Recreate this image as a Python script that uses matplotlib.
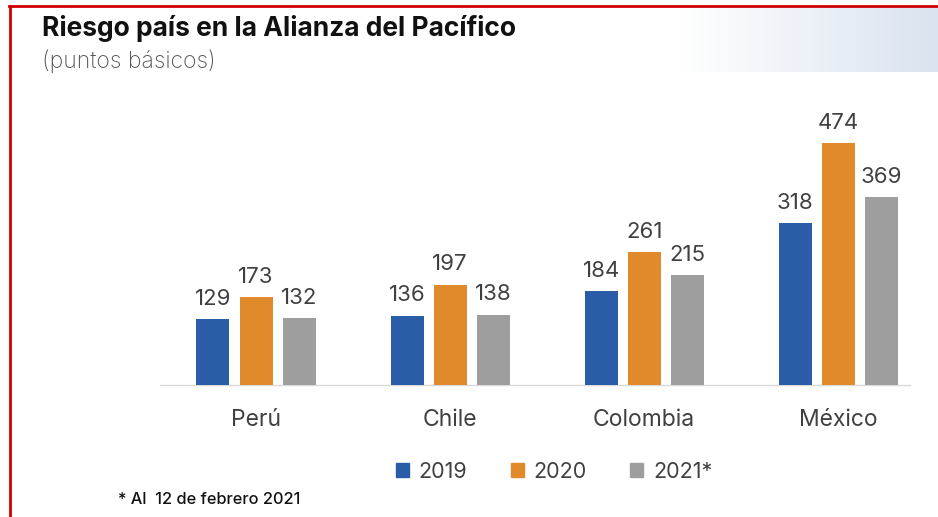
import matplotlib.pyplot as plt
import numpy as np
from matplotlib.lines import Line2D
from matplotlib.patches import Patch

## Data
paises = ["Perú", "Chile", "Colombia", "México"]
v2019 = [129, 136, 184, 318]
v2020 = [173, 197, 261, 474]
v2021 = [132, 138, 215, 369]
series = ["2019", "2020", "2021*"]
colores = ["#2A5CA8", "#E08A2B", "#9E9E9E"]

plt.rcParams['font.family'] = ['Inter', 'DejaVu Sans']

W, H = 938, 517
fig = plt.figure(figsize=(W / 100, H / 100), dpi=100)

def fx(px):
    return px / W

def fy(py):
    return 1 - py / H

## Gradient box top right
grad = fig.add_axes([fx(680), fy(72), fx(938) - fx(680), fy(7) - fy(72)])
g = np.linspace(0, 1, 256).reshape(1, -1)
start = np.array([1.0, 1.0, 1.0])
end = np.array([0xDA, 0xE3, 0xF0]) / 255
img = start + (end - start) * g[..., None]
grad.imshow(img, aspect='auto', extent=[0, 1, 0, 1])
grad.axis('off')

## Bars
ax = fig.add_axes([fx(160), fy(385), fx(910) - fx(160), fy(100) - fy(385)])
x = np.arange(len(paises))
ancho = 0.17
paso = 0.222
for i, (vals, c) in enumerate(zip([v2019, v2020, v2021], colores)):
    bars = ax.bar(x + (i - 1) * paso, vals, ancho, color=c, label=series[i], zorder=3)
    for b, v in zip(bars, vals):
        ax.text(b.get_x() + b.get_width() / 2, v + 20, str(v), ha='center', va='bottom',
                fontsize=16, color='#404040')

ax.set_xlim(-0.495, 3.37)
ax.set_ylim(0, 559)
for s in ['top', 'right', 'left']:
    ax.spines[s].set_visible(False)
ax.spines['bottom'].set_color('#D9D9D9')
ax.spines['bottom'].set_linewidth(1)
ax.set_yticks([])
ax.set_xticks(x)
ax.set_xticklabels(paises, fontsize=16.5, color='#404040')
ax.tick_params(axis='x', length=0, pad=17)

## Legend
handles = [Patch(color=c, label=s) for c, s in zip(colores, series)]
fig.legend(handles=handles, loc='center', bbox_to_anchor=(fx(554), fy(472)), ncol=3,
           frameon=False, fontsize=15.5, handlelength=0.62, handleheight=0.62,
           handletextpad=0.45, columnspacing=2.0, labelcolor='#404040')

## Titles
fig.text(fx(42), fy(29), "Riesgo país en la Alianza del Pacífico", fontsize=19,
         fontweight='bold', color='#111111', va='center', ha='left')
fig.text(fx(42), fy(61), "(puntos básicos)", fontsize=16.5, fontweight='light',
         color='#555555', va='center', ha='left')
fig.text(fx(118), fy(499), "* Al  12 de febrero 2021", fontsize=11.8, fontweight='medium',
         color='#111111', va='center', ha='left')

## Red frame
fig.add_artist(Line2D([fx(9), 1], [fy(6), fy(6)], color='#D00000', lw=2, transform=fig.transFigure))
fig.add_artist(Line2D([fx(10), fx(10)], [fy(6), 0], color='#D00000', lw=2, transform=fig.transFigure))

fig.savefig("out.png", dpi=100)
